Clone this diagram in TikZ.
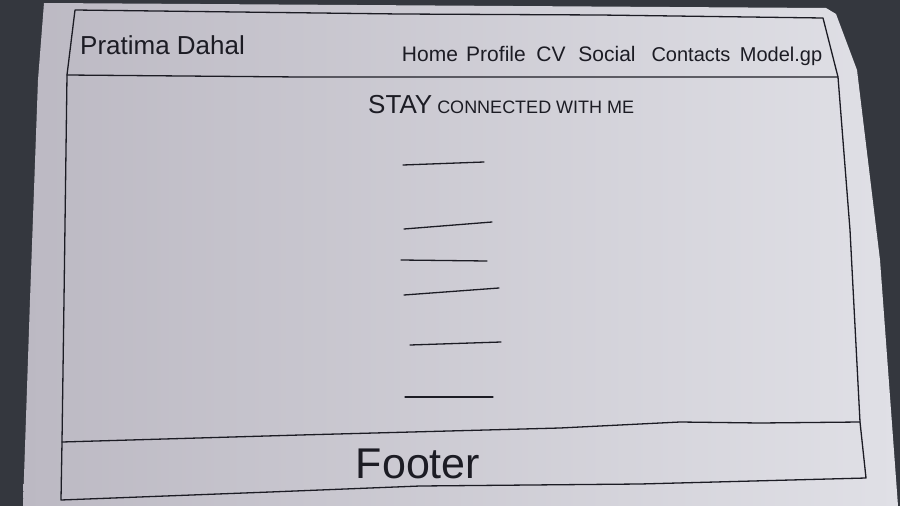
\documentclass[tikz,border=0pt]{standalone}
\usepackage{fontspec}
\setmainfont{Liberation Sans}
\definecolor{desk}{RGB}{52,55,62}
\definecolor{paperl}{RGB}{188,185,195}
\definecolor{paperr}{RGB}{224,224,230}
\definecolor{ink}{RGB}{28,28,36}
\begin{document}
\begin{tikzpicture}[x=1pt,y=1pt,
  pen/.style={draw=ink,line width=1.3pt,line cap=round,line join=round},
  hand/.style={text=ink,inner sep=0pt,anchor=base}]
\useasboundingbox (0,0) rectangle (900,-506);
\fill[desk] (0,0) rectangle (900,-506);
\shade[left color=paperl,right color=paperr] (44,-3) -- (826,-8) -- (836,-14) -- (857,-70) -- (880,-260) -- (898,-506) -- (23,-506) -- (30,-300) -- (38,-80) -- cycle;
% frame
\draw[pen] (75,-10) -- (400,-14) -- (600,-15) -- (823,-18) -- (838,-77) -- (850,-230) -- (860,-422) -- (866,-478) -- (640,-484) -- (420,-486) -- (270,-492) -- (61,-500) -- (62,-442) -- (64,-300) -- (67,-75) -- cycle;
\draw[pen] (67,-75) -- (300,-77) -- (838,-77);
\draw[pen] (62,-442) -- (300,-435) -- (560,-428) -- (680,-422) -- (760,-423) -- (860,-422);
% header
\node[hand,anchor=base west,font=\fontsize{26}{30}\selectfont] (brand) at (80,-54) {Pratima Dahal};
\node[hand,font=\fontsize{21}{24}\selectfont] (home) at (430,-61) {Home};
\node[hand,font=\fontsize{21}{24}\selectfont] (profile) at (496,-61) {Profile};
\node[hand,font=\fontsize{21}{24}\selectfont] (cv) at (551,-61) {CV};
\node[hand,font=\fontsize{21}{24}\selectfont] (social) at (607,-61) {Social};
\node[hand,font=\fontsize{20}{24}\selectfont] (contacts) at (691,-61) {Contacts};
\node[hand,font=\fontsize{20}{24}\selectfont] (model) at (781,-61) {Model.gp};
% body
\node[hand,anchor=base west,font=\fontsize{18}{22}\selectfont] (title) at (368,-113) {{\fontsize{26}{28}\selectfont STAY} CONNECTED WITH ME};
\draw[pen] (403,-165) -- (484,-162);
\draw[pen] (404,-229) -- (492,-222);
\draw[pen] (401,-260) -- (487,-261);
\draw[pen] (404,-295) -- (499,-288);
\draw[pen] (410,-345) -- (501,-342);
\draw[pen] (405,-397) -- (493,-397);
% footer
\node[hand,font=\fontsize{43}{48}\selectfont] (footer) at (418,-478) {Footer};
\end{tikzpicture}
\end{document}
